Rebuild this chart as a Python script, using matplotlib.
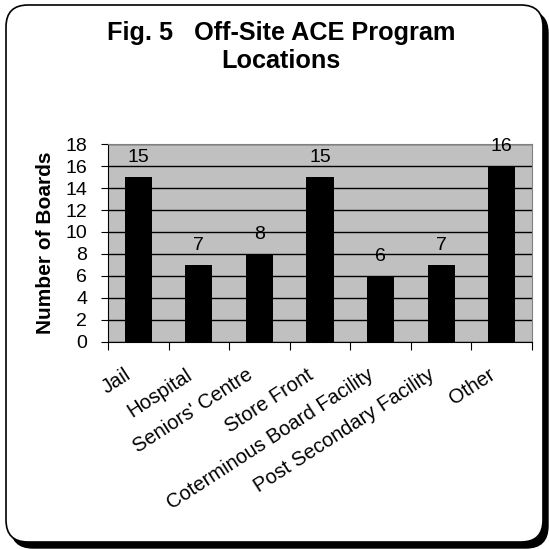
import numpy as np
import matplotlib.pyplot as plt
from matplotlib.patches import FancyBboxPatch
from matplotlib.transforms import offset_copy

plt.rcParams['font.family'] = ['Liberation Sans', 'DejaVu Sans']

locations = ['Jail', 'Hospital', "Seniors' Centre", 'Store Front',
             'Coterminous Board Facility', 'Post Secondary Facility', 'Other']
boards = [15, 7, 8, 15, 6, 7, 16]

fig = plt.figure(figsize=(5.49, 5.49), dpi=100)

# shadow + rounded frame
W = 549.0
shadow = FancyBboxPatch((11 / W, 1 / W), 537 / W, 537 / W,
                        boxstyle='round,pad=0,rounding_size=0.04',
                        transform=fig.transFigure, facecolor='black',
                        edgecolor='black', zorder=0)
frame = FancyBboxPatch((6 / W, 7 / W), 537 / W, 537 / W,
                       boxstyle='round,pad=0,rounding_size=0.04',
                       transform=fig.transFigure, facecolor='white',
                       edgecolor='black', linewidth=1.2, zorder=1)
fig.patches.extend([shadow, frame])

ax = fig.add_axes([108 / W, 1 - 342 / W, (532 - 108) / W, (342 - 144) / W])
ax.set_zorder(2)
ax.set_facecolor('#c0c0c0')

x = np.arange(len(locations))
ax.bar(x, boards, width=0.45, color='black', zorder=3)
for xi, v in zip(x, boards):
    ax.text(xi, v + 1.36, str(v), ha='center', va='baseline', fontsize=14, zorder=4)

ax.set_xlim(-0.5, len(locations) - 0.5)
ax.set_ylim(0, 18)
ax.set_yticks(range(0, 19, 2))
ax.yaxis.grid(True, color='black', linewidth=1)
ax.set_axisbelow(True)
ax.tick_params(axis='y', labelsize=14, length=5, direction='out', pad=10)

# category boundary ticks, labels placed under each category
ax.set_xticks(np.arange(-0.5, len(locations)))
ax.set_xticklabels([])
ax.tick_params(axis='x', length=6, direction='out')
lbl_tr = offset_copy(ax.get_xaxis_transform(), fig=fig, x=-14, y=-23, units='dots')
for xi, name in zip(x, locations):
    ax.text(xi, 0, name, transform=lbl_tr, rotation=33, ha='right', va='top',
            rotation_mode='anchor', fontsize=14.5, clip_on=False)

for s in ['top', 'right']:
    ax.spines[s].set_color('#808080')
ax.spines['left'].set_color('black')
ax.spines['bottom'].set_color('black')

ax.set_ylabel('Number of Boards', fontsize=15, fontweight='bold')
ax.yaxis.set_label_coords(-0.125, 0.5)

fig.text(0.512, 1 - 33 / W, 'Fig. 5   Off-Site ACE Program', ha='center', va='center',
         fontsize=18.2, fontweight='bold', zorder=3)
fig.text(0.512, 1 - 61 / W, 'Locations', ha='center', va='center',
         fontsize=18.2, fontweight='bold', zorder=3)

fig.savefig('out.png', dpi=100)
